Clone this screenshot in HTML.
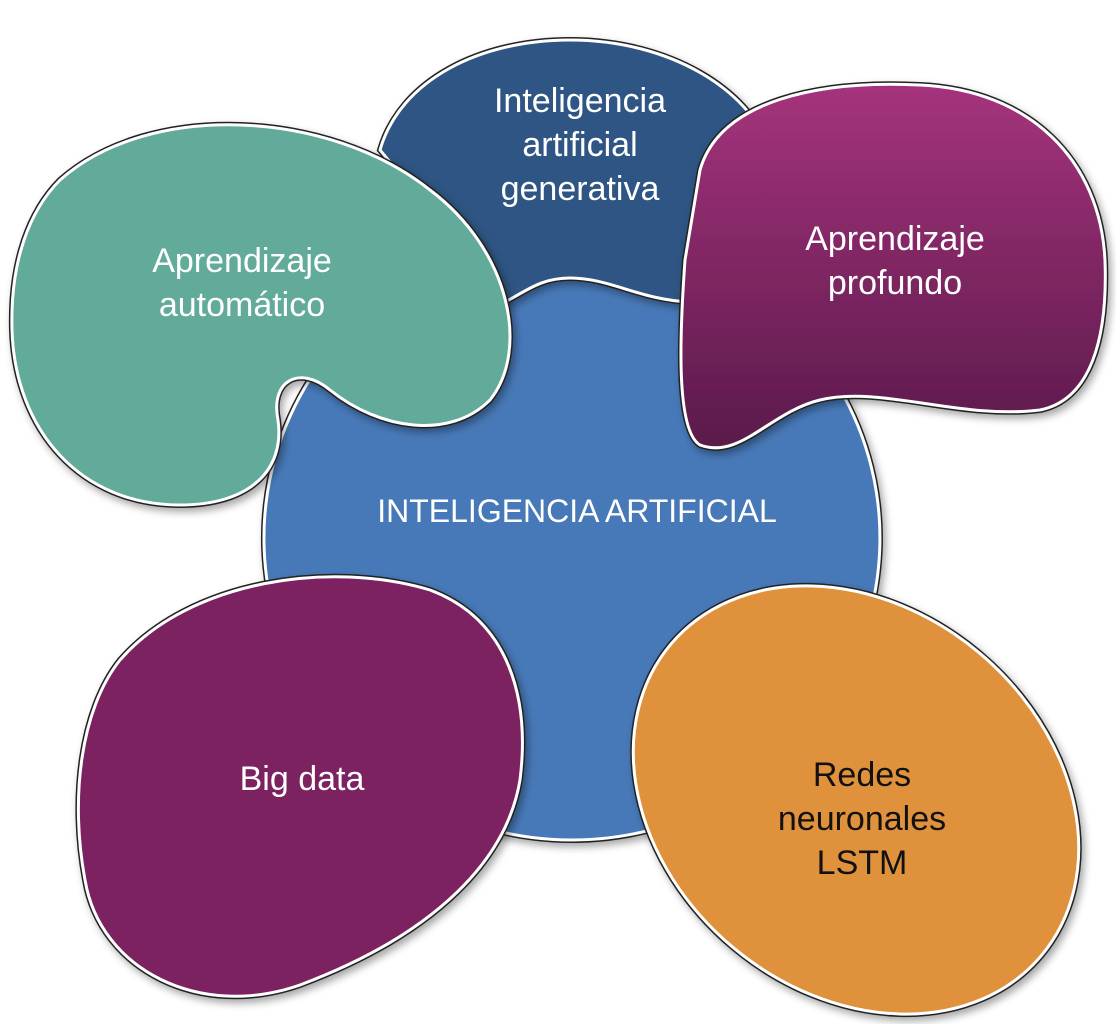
<!DOCTYPE html>
<html><head><meta charset="utf-8"><style>
html,body{margin:0;padding:0;background:#fff;width:1116px;height:1024px;overflow:hidden;}
svg{display:block;}
text{font-family:"Liberation Sans",sans-serif;font-size:34px;fill:#fff;text-anchor:middle;}
</style></head><body>
<svg width="1116" height="1024" viewBox="0 0 1116 1024">
<defs>
<filter id="sh" x="-10%" y="-10%" width="130%" height="130%">
<feDropShadow dx="3" dy="4" stdDeviation="4" flood-color="#000" flood-opacity="0.35"/>
</filter>
<linearGradient id="mg" x1="0" y1="0" x2="0" y2="1">
<stop offset="0" stop-color="#a5337c"/><stop offset="1" stop-color="#5a1a4a"/>
</linearGradient>
<path id="circ" d="M 572 236 A 308 302 0 1 1 571.9 236 Z"/>
<path id="blue" d="M 380,150 C 400,80 480,40 570,40 C 670,40 750,90 770,150 L 690,302 C 640,300 610,278 570,278 C 540,278 525,292 505,302 Z"/>
<path id="teal" d="M 60,180 C 150,100 330,110 430,190 C 510,250 530,350 490,400 C 450,440 380,430 330,390 C 300,365 270,380 278,420 C 285,470 250,505 180,505 C 80,505 15,430 12,330 C 10,260 30,210 60,180 Z"/>
<path id="mag" d="M 700,170 C 720,100 820,80 920,85 C 1030,90 1100,160 1105,260 C 1108,340 1090,400 1040,410 C 960,420 880,385 820,400 C 770,412 740,460 700,445 C 675,430 680,330 685,260 Z"/>
<path id="big" d="M 120,660 C 190,580 330,560 430,590 C 510,620 530,700 520,780 C 505,870 420,940 300,985 C 200,1020 100,970 85,880 C 70,800 80,710 120,660 Z"/>
</defs>
<g filter="url(#sh)">
<use href="#circ" fill="#4679b8" stroke="#222" stroke-width="6"/>
<use href="#circ" fill="#4679b8" stroke="#fff" stroke-width="3"/>
</g>
<g filter="url(#sh)">
<use href="#blue" fill="#2f5583" stroke="#222" stroke-width="6"/>
<use href="#blue" fill="#2f5583" stroke="#fff" stroke-width="3"/>
</g>
<g filter="url(#sh)">
<use href="#teal" fill="#62ab9a" stroke="#222" stroke-width="6"/>
<use href="#teal" fill="#62ab9a" stroke="#fff" stroke-width="3"/>
</g>
<g filter="url(#sh)">
<use href="#mag" fill="url(#mg)" stroke="#222" stroke-width="6"/>
<use href="#mag" fill="url(#mg)" stroke="#fff" stroke-width="3"/>
</g>
<g filter="url(#sh)">
<use href="#big" fill="#7d2060" stroke="#222" stroke-width="6"/>
<use href="#big" fill="#7d2060" stroke="#fff" stroke-width="3"/>
</g>
<g filter="url(#sh)">
<ellipse cx="856" cy="800" rx="242" ry="192" transform="rotate(40 856 800)" fill="#e0913a" stroke="#222" stroke-width="6"/>
<ellipse cx="856" cy="800" rx="242" ry="192" transform="rotate(40 856 800)" fill="#e0913a" stroke="#fff" stroke-width="3"/>
</g>
<text x="580" y="112">Inteligencia</text>
<text x="580" y="156">artificial</text>
<text x="580" y="200">generativa</text>
<text x="242" y="272">Aprendizaje</text>
<text x="242" y="316">automático</text>
<text x="895" y="250">Aprendizaje</text>
<text x="895" y="294">profundo</text>
<text x="577" y="522" style="font-size:32px">INTELIGENCIA ARTIFICIAL</text>
<text x="302" y="790">Big data</text>
<text x="862" y="786" style="fill:#111">Redes</text>
<text x="862" y="830" style="fill:#111">neuronales</text>
<text x="862" y="874" style="fill:#111">LSTM</text>
</svg>
</body></html>
